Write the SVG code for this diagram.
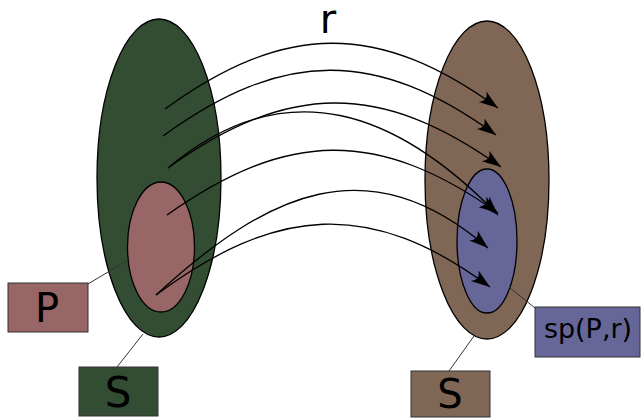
<svg xmlns="http://www.w3.org/2000/svg" width="642" height="418" viewBox="0 0 642 418">
<style>
.set{stroke:#000;stroke-width:1.3}
.lead{stroke:#333;stroke-width:1;fill:none}
.box{stroke:#333;stroke-width:1}
.lbl{font-family:"DejaVu Sans",sans-serif;fill:#000;text-anchor:middle}
.arr{fill:none;stroke:#000;stroke-width:1.3;marker-end:url(#ah)}
</style>
<defs>
<marker id="ah" markerUnits="userSpaceOnUse" markerWidth="24" markerHeight="16" viewBox="-21 -8 24 16" refX="0" refY="0" orient="auto">
<path d="M0,0 L-19,-6.5 Q-12,0 -19,6.5 Z" fill="#000"/>
</marker>
</defs>
<rect width="642" height="418" fill="#fff"/>
<g id="leftS">
<ellipse class="set" cx="159" cy="178" rx="62" ry="159" fill="#334d33"/>
</g>
<g id="P">
<ellipse class="set" cx="161" cy="247" rx="33.5" ry="65" fill="#996666"/>
</g>
<g id="rightS">
<ellipse class="set" cx="487" cy="180" rx="62" ry="159" fill="#806655"/>
</g>
<g id="spPr">
<ellipse class="set" cx="487" cy="241" rx="30" ry="72" fill="#666699"/>
</g>
<g id="connectors">
<path class="arr" d="M165,109 C285,22 378,21 498,108"/>
<path class="arr" d="M163,136 C283,49 376,48 496,135"/>
<path class="arr" d="M168,168 C288,82 381,81 501,167"/>
<path class="arr" d="M168,168 C288,67 400,114 498,215"/>
<path class="arr" d="M167,215 C287,130 378,128 498,213"/>
<path class="arr" d="M156,295 C268,192 368,145 488,248"/>
<path class="arr" d="M156,295 C276,206 370,198 490,287"/>
<line class="lead" x1="88" y1="284" x2="128" y2="260"/>
<line class="lead" x1="117" y1="367" x2="143" y2="334"/>
<line class="lead" x1="449" y1="371" x2="474" y2="336"/>
<line class="lead" x1="535" y1="308" x2="509" y2="287"/>
</g>
<g id="label-r">
<text class="lbl" x="328" y="33" font-size="40">r</text>
</g>
<g id="box-P">
<rect class="box" x="8" y="283" width="80" height="49" fill="#996666"/>
<text class="lbl" x="47" y="322" font-size="40">P</text>
</g>
<g id="box-S-left">
<rect class="box" x="79" y="367" width="79" height="49" fill="#334d33"/>
<text class="lbl" x="118" y="407" font-size="42">S</text>
</g>
<g id="box-S-right">
<rect class="box" x="411" y="371" width="79" height="46" fill="#806655"/>
<text class="lbl" x="450" y="408" font-size="40">S</text>
</g>
<g id="box-sp">
<rect class="box" x="535" y="307" width="105" height="50" fill="#666699"/>
<text class="lbl" x="588" y="338" font-size="27">sp(P,r)</text>
</g>
</svg>
